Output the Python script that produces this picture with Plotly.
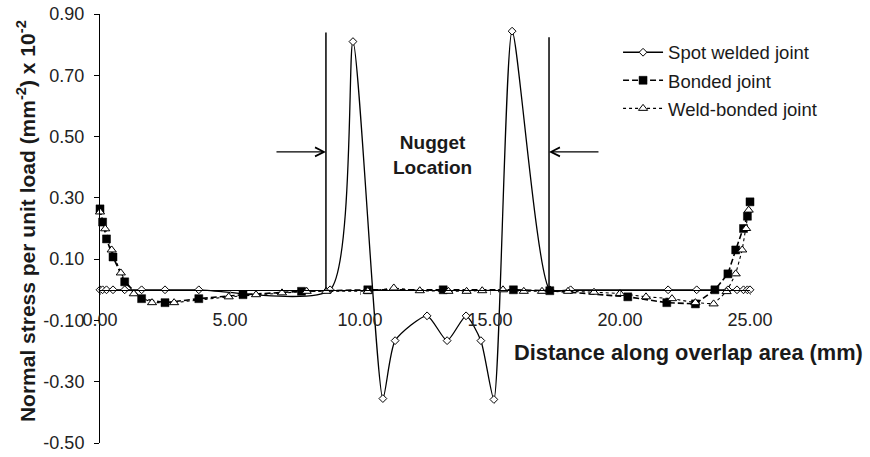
import plotly.graph_objects as go

# ---------------- data ----------------
spot_x = [0.0, 0.1, 0.25, 0.5, 0.95, 1.6, 2.5, 3.8, 8.85, 9.73, 10.88, 11.35, 12.58,
          13.35, 14.08, 14.65, 15.15, 15.85, 17.3, 18.1, 21.85, 22.95, 24.15, 24.5,
          24.75, 24.9, 25.0]
spot_y = [0.0, 0.0, 0.0, 0.0, 0.0, 0.0, 0.0, 0.0, 0.0, 0.81, -0.355, -0.166, -0.085,
          -0.166, -0.085, -0.166, -0.358, 0.844, 0.0, 0.0, 0.0, 0.0, 0.0, 0.0,
          0.0, 0.0, 0.0]

bonded_x = [0.0, 0.1, 0.25, 0.5, 0.95, 1.6, 2.5, 3.8, 5.5, 7.75, 10.3, 13.2, 15.9,
            17.3, 20.3, 21.8, 22.9, 23.65, 24.15, 24.45, 24.75, 24.9, 25.0]
bonded_y = [0.264, 0.221, 0.166, 0.107, 0.026, -0.029, -0.042, -0.029, -0.016, -0.005,
            0.0, 0.0, 0.0, -0.003, -0.023, -0.042, -0.046, 0.0, 0.052, 0.13, 0.2,
            0.24, 0.287]

weld_x = [0.0, 0.2, 0.45, 0.8, 1.3, 2.0, 2.85, 4.95, 6.0, 7.0, 7.95, 8.7, 10.3, 11.3,
          12.3, 13.4, 14.1, 14.7, 15.5, 16.3, 17.0, 18.0, 19.0, 20.0, 21.0, 22.0,
          22.9, 23.6, 24.1, 24.45, 24.7, 24.85, 24.95]
weld_y = [0.254, 0.199, 0.13, 0.055, -0.013, -0.042, -0.042, -0.023, -0.016, -0.01,
          -0.005, -0.005, -0.005, 0.006, -0.003, -0.005, -0.005, -0.003, 0.0, -0.005,
          -0.005, -0.005, -0.008, -0.012, -0.023, -0.029, -0.042, -0.046, -0.006,
          0.052, 0.13, 0.2, 0.26]

series_names = ["Spot welded joint", "Bonded joint", "Weld-bonded joint"]

x_ticks = [0, 5, 10, 15, 20, 25]
x_ticklabels = [f"{v:.2f}" for v in x_ticks]
y_ticks = [0.9, 0.7, 0.5, 0.3, 0.1, -0.1, -0.3, -0.5]
y_ticklabels = [f"{v:.2f}" for v in y_ticks]

x_range = [0, 25]
y_range = [-0.5, 0.9]

# nugget boundaries and annotation
nugget_left, nugget_right = 8.69, 17.27
nugget_left_top, nugget_right_top = 0.84, 0.824
arrow_y = 0.45
arrow_left_tail, arrow_right_tail = 6.73, 19.23

# ---------------- figure ----------------
FONT = "Liberation Sans, Arial, sans-serif"
TXT = "#1a1a1a"

fig = go.Figure()

fig.add_trace(go.Scatter(
    x=spot_x, y=spot_y, name=series_names[0], mode="lines+markers",
    line=dict(color="black", width=1.3, shape="spline", smoothing=0.6),
    marker=dict(symbol="diamond", size=6, color="white",
                line=dict(color="black", width=1)),
    cliponaxis=False, legendgroup="a"))

fig.add_trace(go.Scatter(
    x=bonded_x, y=bonded_y, name=series_names[1], mode="lines+markers",
    line=dict(color="black", width=1.6, dash="6px,3px"),
    marker=dict(symbol="square", size=8, color="black",
                line=dict(color="black", width=0.5)),
    cliponaxis=False, legendgroup="b"))

fig.add_trace(go.Scatter(
    x=weld_x, y=weld_y, name=series_names[2], mode="lines+markers",
    line=dict(color="black", width=1.1, dash="3px,3px"),
    marker=dict(symbol="triangle-up", size=8, color="white",
                line=dict(color="black", width=1)),
    cliponaxis=False, legendgroup="c"))

# nugget boundary lines
for xv, yt in [(nugget_left, nugget_left_top), (nugget_right, nugget_right_top)]:
    fig.add_shape(type="line", x0=xv, x1=xv, y0=0, y1=yt, xref="x", yref="y",
                  line=dict(color="black", width=1.5))

# arrows
for xh, xt in [(nugget_left, arrow_left_tail), (nugget_right, arrow_right_tail)]:
    fig.add_annotation(x=xh, y=arrow_y, ax=xt, ay=arrow_y, xref="x", yref="y",
                       axref="x", ayref="y", text="", showarrow=True,
                       arrowhead=5, arrowsize=1.6, arrowwidth=1.1, arrowcolor="black",
                       standoff=0, startstandoff=0)

fig.add_annotation(x=12.77, y=0.44, xref="x", yref="y",
                   text="<b>Nugget<br>Location</b>", showarrow=False,
                   font=dict(family=FONT, size=19, color=TXT), align="center")

# axis titles
fig.add_annotation(x=1.177, y=0.212, xref="paper", yref="paper", xanchor="right",
                   yanchor="middle", showarrow=False,
                   text="<b>Distance along overlap area (mm)</b>",
                   font=dict(family=FONT, size=21.8, color=TXT))
fig.add_annotation(x=-0.114, y=0.517, xref="paper", yref="paper", xanchor="center",
                   yanchor="middle", showarrow=False, textangle=-90,
                   text="<b>Normal stress per unit load (mm<sup>-2</sup>) x 10<sup>-2</sup></b>",
                   font=dict(family=FONT, size=21, color=TXT))

x_axis_pos = (0 - y_range[0]) / (y_range[1] - y_range[0])

fig.update_layout(
    template="none",
    width=870, height=457,
    margin=dict(l=100, r=120, t=14, b=14, autoexpand=False),
    paper_bgcolor="white", plot_bgcolor="white",
    font=dict(family=FONT, size=18, color=TXT),
    showlegend=True,
    legend=dict(x=0.797, y=0.954, xanchor="left", yanchor="top",
                bgcolor="rgba(0,0,0,0)", borderwidth=0,
                font=dict(family=FONT, size=18.5, color=TXT),
                traceorder="grouped", tracegroupgap=1, itemwidth=40),
    xaxis=dict(range=x_range, tickvals=x_ticks, ticktext=x_ticklabels,
               showline=True, linecolor="black", linewidth=1,
               ticks="outside", ticklen=4, tickcolor="#888",
               showgrid=False, zeroline=False, anchor="free", position=x_axis_pos,
               ticklabelstandoff=10, automargin=False,
               tickfont=dict(family=FONT, size=18, color="#222")),
    yaxis=dict(range=y_range, tickvals=y_ticks, ticktext=y_ticklabels,
               showline=True, linecolor="black", linewidth=1,
               ticks="outside", ticklen=5, tickcolor="black",
               showgrid=False, zeroline=False, ticklabelstandoff=6, automargin=False,
               tickfont=dict(family=FONT, size=18, color="#222")),
)

fig.write_html("out.html")
